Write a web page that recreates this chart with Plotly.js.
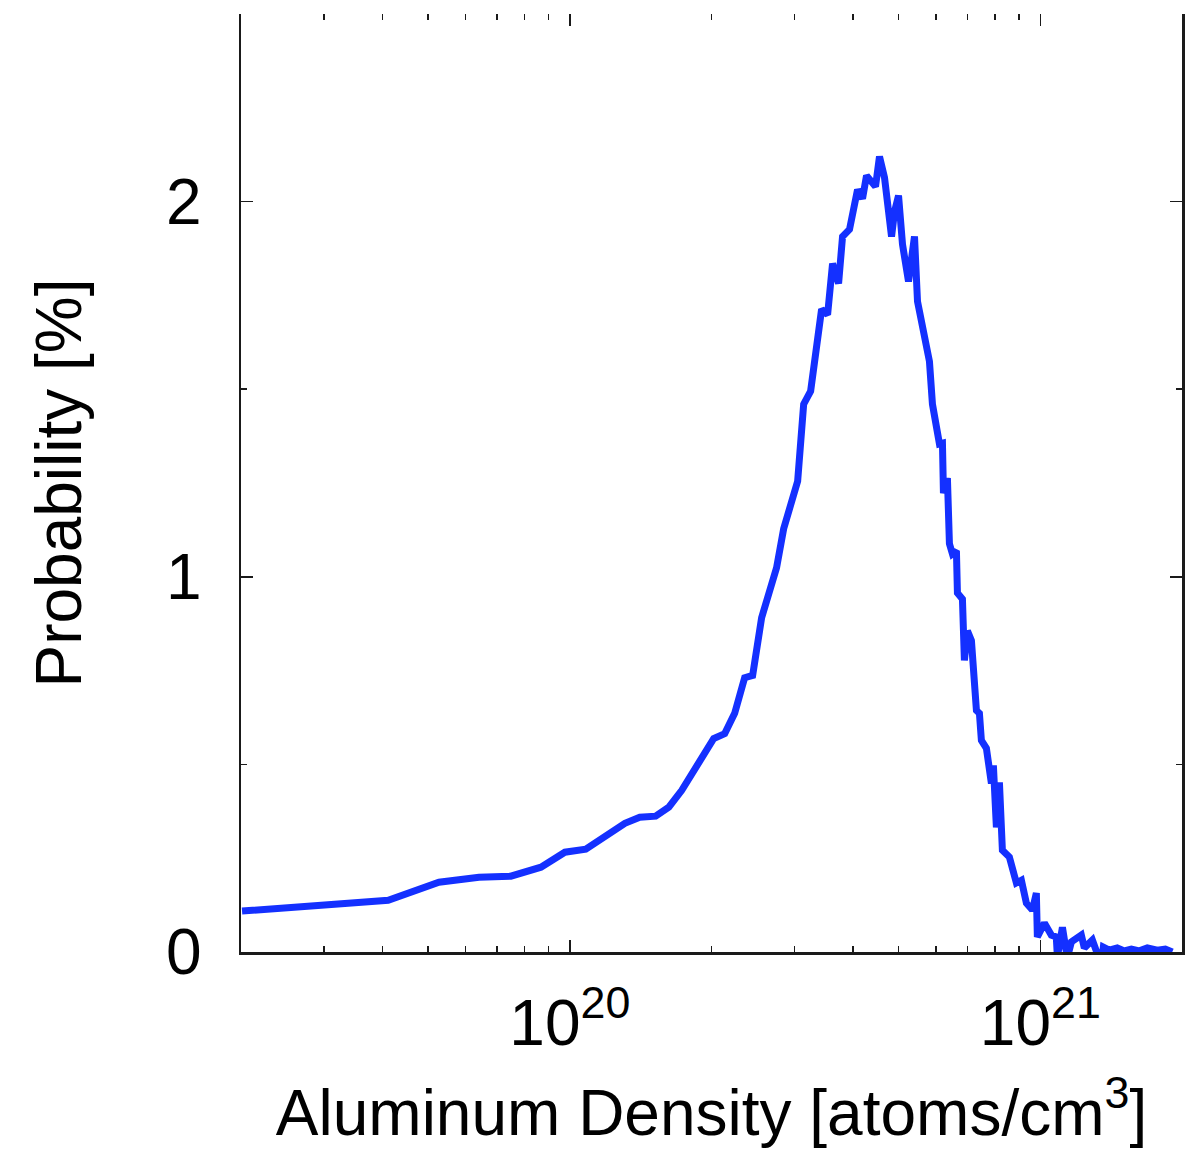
<!DOCTYPE html>
<html>
<head>
<meta charset="utf-8">
<script src="https://cdn.plot.ly/plotly-3.0.1.min.js"></script>
<style>html,body{margin:0;padding:0;background:#fff;}</style>
</head>
<body>
<div id="chart" style="width:1197px;height:1152px;"></div>
<script>
// Aluminum density [atoms/cm^3]
var density = [
  2.01e19, 3.02e19, 4.11e19, 5.27e19, 6.41e19, 7.49e19, 8.68e19, 9.76e19,
  1.081e20, 1.309e20, 1.408e20, 1.522e20, 1.623e20, 1.729e20, 1.861e20, 2.022e20,
  2.134e20, 2.240e20, 2.352e20, 2.446e20, 2.556e20, 2.658e20, 2.750e20, 2.847e20,
  3.049e20, 3.140e20, 3.249e20, 3.428e20, 3.530e20, 3.617e20, 3.725e20, 3.798e20,
  3.930e20, 4.087e20, 4.188e20, 4.271e20, 4.463e20, 4.551e20, 4.664e20, 4.827e20,
  4.898e20, 4.995e20, 5.093e20, 5.245e20, 5.401e20, 5.481e20, 5.671e20, 5.811e20,
  5.897e20, 6.014e20, 6.103e20, 6.193e20, 6.223e20, 6.345e20, 6.408e20, 6.503e20,
  6.631e20, 6.664e20, 6.829e20, 6.895e20, 6.998e20, 7.136e20, 7.313e20, 7.421e20,
  7.493e20, 7.679e20, 7.870e20, 7.946e20, 8.064e20, 8.184e20, 8.304e20, 8.593e20,
  8.892e20, 9.113e20, 9.339e20, 9.617e20, 9.806e20, 9.854e20, 1.0198e21, 1.055e21,
  1.081e21, 1.087e21, 1.114e21, 1.141e21, 1.164e21, 1.222e21, 1.240e21, 1.290e21,
  1.315e21, 1.348e21, 1.361e21, 1.401e21, 1.457e21, 1.508e21, 1.561e21, 1.623e21,
  1.688e21, 1.772e21, 1.843e21, 1.907e21
];
// Probability [%]
var probability = [
  0.109, 0.128, 0.138, 0.186, 0.199, 0.202, 0.226, 0.266,
  0.274, 0.343, 0.359, 0.362, 0.386, 0.431, 0.492, 0.569,
  0.582, 0.636, 0.731, 0.737, 0.891, 0.963, 1.024, 1.128,
  1.255, 1.460, 1.495, 1.713, 1.699, 1.835, 1.782, 1.907,
  1.926, 2.032, 2.008, 2.069, 2.040, 2.120, 2.064, 1.907,
  1.973, 2.016, 1.886, 1.787, 1.907, 1.734, 1.646, 1.574,
  1.460, 1.396, 1.354, 1.356, 1.223, 1.263, 1.088, 1.061,
  1.069, 0.957, 0.941, 0.777, 0.856, 0.830, 0.644, 0.636,
  0.564, 0.543, 0.449, 0.497, 0.332, 0.452, 0.271, 0.253,
  0.184, 0.191, 0.130, 0.112, 0.157, 0.040, 0.077, 0.045,
  0.040, -0.013, 0.066, -0.016, 0.027, 0.045, 0.011, 0.032,
  0.005, -0.035, 0.013, 0.005, 0.011, 0.003, 0.008, 0.003,
  0.011, 0.005, 0.008, 0.000
];

var xMajorTicks = [1e20, 1e21];
var xMajorLabels = ['10<sup>20</sup>', '10<sup>21</sup>'];
var xMinorTicks = [3e19, 4e19, 5e19, 6e19, 7e19, 8e19, 9e19,
                   2e20, 3e20, 4e20, 5e20, 6e20, 7e20, 8e20, 9e20];
var yMajorTicks = [0, 1, 2];
var yMinorTicks = [0.5, 1.5];
var xRange = [2e19, 2e21];
var yRange = [0, 2.5];

var FONT = 'Liberation Sans, Arial, Helvetica, sans-serif';
var AXC = '#1a1a1a';

var traces = [
  {
    x: density, y: probability, type: 'scatter', mode: 'lines',
    line: {color: '#1430ff', width: 7},
    cliponaxis: false, showlegend: false, hoverinfo: 'skip'
  },
  { x: [], y: [], xaxis: 'x2', yaxis: 'y', type: 'scatter', mode: 'lines', showlegend: false }
];

var xRangeLog = [Math.log10(xRange[0]), Math.log10(xRange[1])];

var layout = {
  width: 1197, height: 1152,
  margin: {l: 241, r: 15, t: 14, b: 200},
  paper_bgcolor: '#fff', plot_bgcolor: '#fff',
  font: {family: FONT, color: '#000'},
  showlegend: false,
  xaxis: {
    type: 'log', range: xRangeLog,
    tickmode: 'array', tickvals: xMajorTicks, ticktext: xMajorLabels,
    ticks: 'inside', ticklen: 12, tickwidth: 1.5, tickcolor: AXC,
    minor: {tickmode: 'array', tickvals: xMinorTicks, ticks: 'inside', ticklen: 6, tickwidth: 1.5, tickcolor: AXC, showgrid: false},
    showline: true, linecolor: AXC, linewidth: 2.5, mirror: false,
    showgrid: false, zeroline: false,
    tickfont: {size: 64, family: FONT, color: '#000'},
    ticklabelstandoff: 14,
    title: {text: 'Aluminum Density [atoms/cm<sup>3</sup>]', font: {size: 64, family: FONT, color: '#000'}, standoff: 32},
    automargin: false
  },
  xaxis2: {
    type: 'log', range: xRangeLog, overlaying: 'x', side: 'top', anchor: 'y',
    tickmode: 'array', tickvals: xMajorTicks, ticktext: ['', ''],
    ticks: 'inside', ticklen: 12, tickwidth: 1.5, tickcolor: AXC,
    minor: {tickmode: 'array', tickvals: xMinorTicks, ticks: 'inside', ticklen: 6, tickwidth: 1.5, tickcolor: AXC, showgrid: false},
    showline: false, showgrid: false, zeroline: false, showticklabels: false
  },
  yaxis: {
    range: yRange,
    tickmode: 'array', tickvals: yMajorTicks,
    ticks: 'inside', ticklen: 12, tickwidth: 1.5, tickcolor: AXC,
    minor: {tickmode: 'array', tickvals: yMinorTicks, ticks: 'inside', ticklen: 6, tickwidth: 1.5, tickcolor: AXC, showgrid: false},
    showline: true, linecolor: AXC, linewidth: 2.5, mirror: 'ticks',
    showgrid: false, zeroline: false,
    tickfont: {size: 64, family: FONT, color: '#000'},
    ticklabelstandoff: 24,
    title: {text: 'Probability [%]', font: {size: 64, family: FONT, color: '#000'}, standoff: 64},
    automargin: false
  }
};

Plotly.newPlot('chart', traces, layout, {displayModeBar: false, staticPlot: true});
</script>
</body>
</html>
